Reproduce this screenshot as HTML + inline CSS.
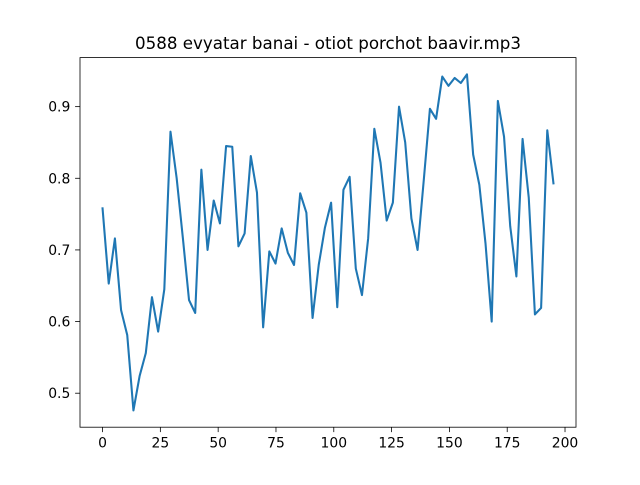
<!DOCTYPE html>
<html><head><meta charset="utf-8"><style>
body{margin:0;background:#fff;}
svg text{font-family:"DejaVu Sans","Liberation Sans",sans-serif;}
</style></head><body>
<svg id="chart" width="640" height="480">
<rect width="640" height="480" fill="#fff"/>
<text x="328" y="49" font-size="16.7" text-anchor="middle">0588 evyatar banai - otiot porchot baavir.mp3</text>
<g id="axes"></g>
<path id="line" fill="none" stroke="#1f77b4" stroke-width="2.08" stroke-linejoin="round" stroke-linecap="square"/>
<rect x="80" y="57.6" width="496" height="369.6" fill="none" stroke="#000" stroke-width="0.8"/>
</svg>
<script>
const values = [0.758,0.653,0.716,0.616,0.581,0.476,0.524,0.556,0.634,0.586,0.645,0.865,0.8,0.717,0.63,0.612,0.812,0.7,0.769,0.737,0.845,0.844,0.705,0.723,0.831,0.78,0.592,0.698,0.681,0.73,0.696,0.679,0.779,0.752,0.605,0.679,0.731,0.766,0.62,0.784,0.802,0.674,0.637,0.716,0.869,0.822,0.741,0.766,0.9,0.85,0.744,0.7,0.797,0.897,0.883,0.942,0.929,0.94,0.933,0.945,0.833,0.791,0.709,0.6,0.908,0.858,0.733,0.663,0.855,0.773,0.61,0.619,0.867,0.793];
const xMax = 195;
const xTicks = [0,25,50,75,100,125,150,175,200];
const yTicks = [0.5,0.6,0.7,0.8,0.9];
const L=80,R=576,T=57.6,B=427.2;
const n=values.length;
const xs=values.map((v,i)=>i*xMax/(n-1));
const x0=-xMax*0.05,x1=xMax*1.05;
const vmin=Math.min(...values),vmax=Math.max(...values),pad=(vmax-vmin)*0.05;
const y0=vmin-pad,y1=vmax+pad;
const X=v=>L+(v-x0)/(x1-x0)*(R-L);
const Y=v=>B-(v-y0)/(y1-y0)*(B-T);
const NS='http://www.w3.org/2000/svg';
const axes=document.getElementById('axes');
function mk(tag,attrs,txt){const e=document.createElementNS(NS,tag);for(const k in attrs)e.setAttribute(k,attrs[k]);if(txt!==undefined)e.textContent=txt;axes.appendChild(e);return e;}
xTicks.forEach(t=>{const x=X(t);
const l=mk('line',{x1:x,x2:x,y1:B,y2:B+4.9,stroke:'#000','stroke-width':0.8});


const tx=mk('text',{x:x,y:B+20.5,'font-size':13.9,'text-anchor':'middle'},String(t));


});
yTicks.forEach(t=>{const y=Y(t);
const l=mk('line',{x1:L-4.9,x2:L,y1:y,y2:y,stroke:'#000','stroke-width':0.8});


const tx=mk('text',{x:L-9.7,y:y+5,'font-size':13.9,'text-anchor':'end'},t.toFixed(1));


});
document.getElementById('line').setAttribute('d',values.map((v,i)=>(i?'L':'M')+X(xs[i]).toFixed(2)+','+Y(v).toFixed(2)).join(''));
</script>
</body></html>
